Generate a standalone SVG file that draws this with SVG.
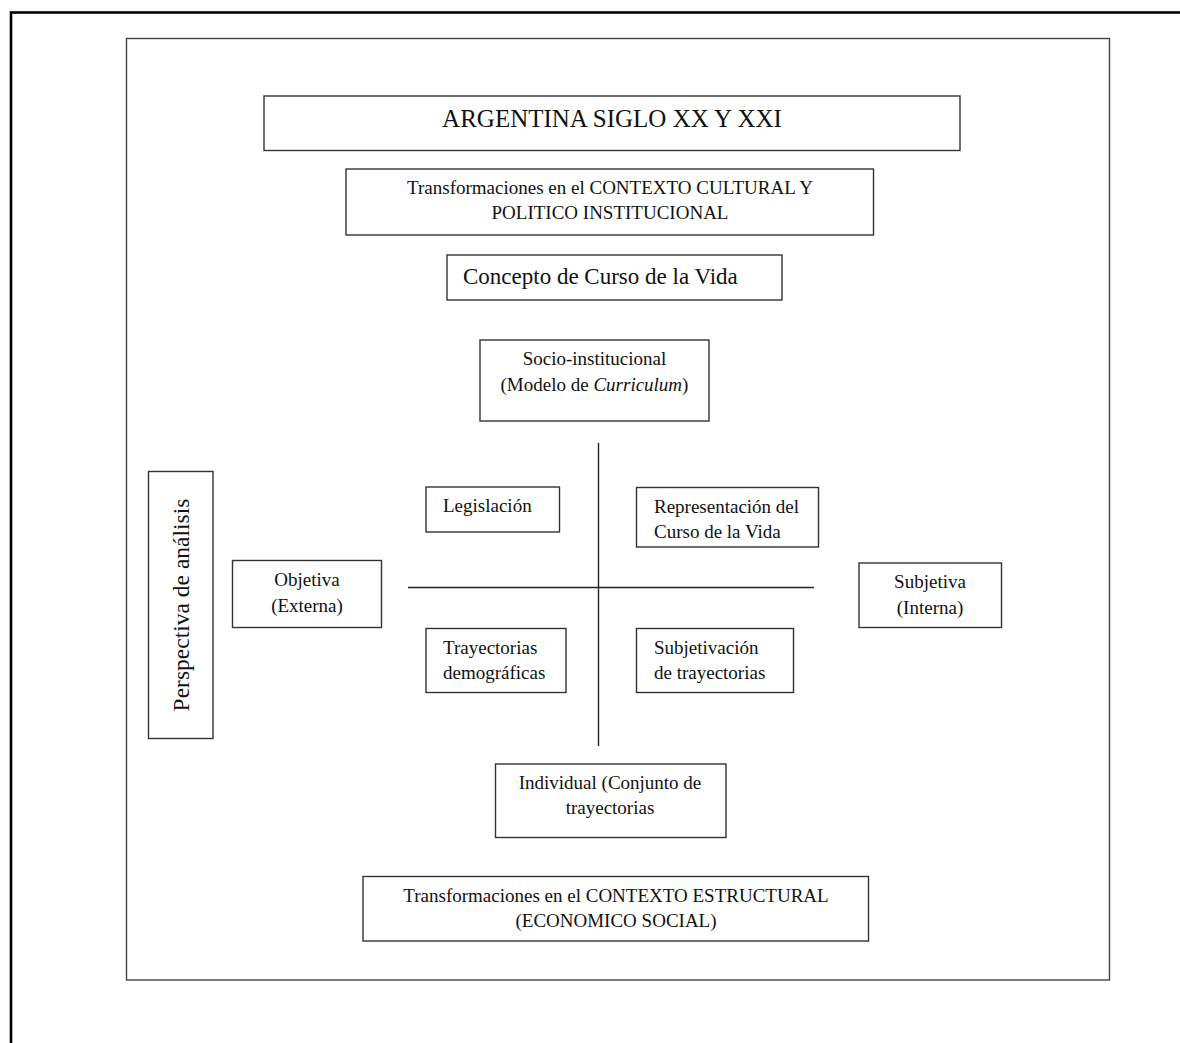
<svg xmlns="http://www.w3.org/2000/svg" width="1180" height="1043" viewBox="0 0 1180 1043">
<style>
.box{fill:#fff;stroke:#333;stroke-width:1.4}
.t{font-family:"Liberation Serif","Times New Roman",serif;font-size:19px;fill:#111}
.c{text-anchor:middle}
.ln{stroke:#222;stroke-width:1.4;fill:none}
</style>
<rect x="0" y="0" width="1180" height="1043" fill="#fff"/>
<rect x="11" y="12.5" width="1200" height="1100" fill="none" stroke="#000" stroke-width="2.6"/>
<rect x="126.5" y="38.5" width="983" height="941.5" fill="none" stroke="#444" stroke-width="1.4"/>
<g id="connectors">
<line class="ln" x1="598.5" y1="443" x2="598.5" y2="746"/>
<line class="ln" x1="408" y1="587.5" x2="814" y2="587.5"/>
</g>
<g id="title"><rect class="box" x="264" y="96" width="696" height="54.5"/><text class="t c" x="612" y="127" style="font-size:25px">ARGENTINA SIGLO XX Y XXI</text></g>
<g id="contexto-cultural"><rect class="box" x="346" y="169" width="527.5" height="66"/><text class="t c" x="610" y="194">Transformaciones en el CONTEXTO CULTURAL Y</text><text class="t c" x="610" y="219">POLITICO INSTITUCIONAL</text></g>
<g id="concepto"><rect class="box" x="447" y="255" width="335" height="45"/><text class="t" x="463" y="284" style="font-size:23px">Concepto de Curso de la Vida</text></g>
<g id="socio"><rect class="box" x="480" y="340" width="229" height="81"/><text class="t c" x="594.5" y="365">Socio-institucional</text><text class="t c" x="594.5" y="391">(Modelo de <tspan font-style="italic">Curriculum</tspan>)</text></g>
<g id="perspectiva"><rect class="box" x="148.5" y="471.5" width="64.5" height="267"/><text class="t c" transform="translate(189 605) rotate(-90)" style="font-size:23.5px">Perspectiva de análisis</text></g>
<g id="legislacion"><rect class="box" x="426" y="487" width="133.5" height="45"/><text class="t" x="443" y="512">Legislación</text></g>
<g id="representacion"><rect class="box" x="636.5" y="487.5" width="182" height="59.5"/><text class="t" x="654" y="513">Representación del</text><text class="t" x="654" y="538">Curso de la Vida</text></g>
<g id="objetiva"><rect class="box" x="232.5" y="560.5" width="149" height="67"/><text class="t c" x="307" y="586">Objetiva</text><text class="t c" x="307" y="612">(Externa)</text></g>
<g id="subjetiva"><rect class="box" x="859" y="563" width="142.5" height="64.5"/><text class="t c" x="930" y="588">Subjetiva</text><text class="t c" x="930" y="614">(Interna)</text></g>
<g id="trayectorias"><rect class="box" x="426" y="628.5" width="140" height="64"/><text class="t" x="443" y="654">Trayectorias</text><text class="t" x="443" y="679">demográficas</text></g>
<g id="subjetivacion"><rect class="box" x="636.5" y="628.5" width="157" height="64"/><text class="t" x="654" y="654">Subjetivación</text><text class="t" x="654" y="679">de trayectorias</text></g>
<g id="individual"><rect class="box" x="495.5" y="764" width="230.5" height="73.5"/><text class="t c" x="610" y="789">Individual (Conjunto de</text><text class="t c" x="610" y="814">trayectorias</text></g>
<g id="contexto-estructural"><rect class="box" x="363" y="876.5" width="505.5" height="64.5"/><text class="t c" x="616" y="902">Transformaciones en el CONTEXTO ESTRUCTURAL</text><text class="t c" x="616" y="927">(ECONOMICO SOCIAL)</text></g>
</svg>
